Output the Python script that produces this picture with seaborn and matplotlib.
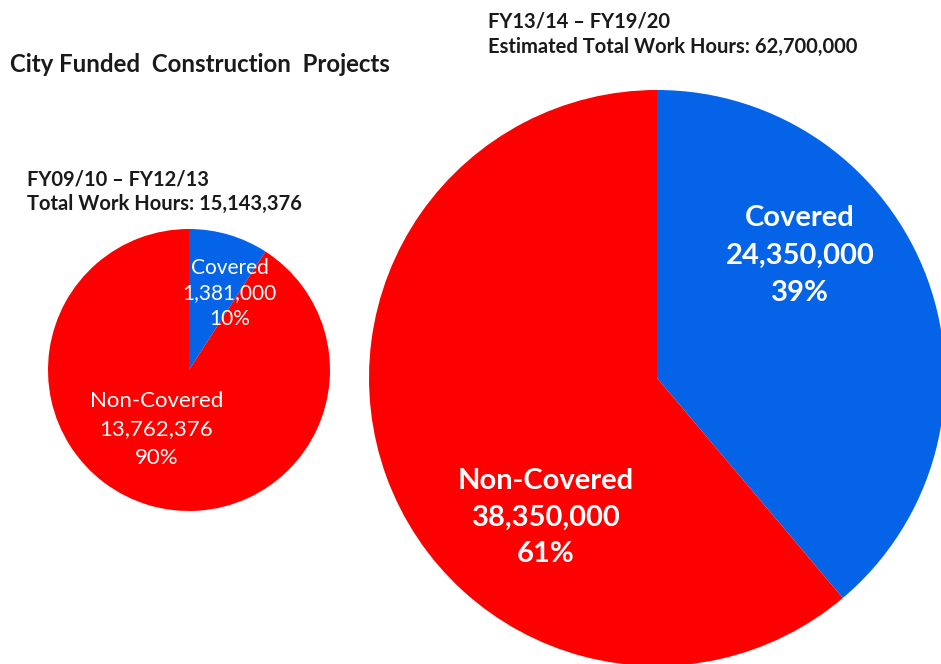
################################################################
# libraries:
import matplotlib
matplotlib.use('Agg')
import matplotlib.pyplot as plt
import seaborn as sns

################################################################
# data:
categories = ['Covered', 'Non-Covered']
hours_past = [1381000, 13762376]        # FY09/10 - FY12/13
hours_future = [24350000, 38350000]     # FY13/14 - FY19/20
pct_past = ['10%', '90%']
pct_future = ['39%', '61%']
colors = ['#0563E8', '#FF0000']

################################################################
# style:
sns.set_theme(style='white')
plt.rcParams['font.family'] = ['Lato', 'DejaVu Sans']

W, H = 941, 664
fig = plt.figure(figsize=(W / 100, H / 100), dpi=100)
fig.patch.set_facecolor('white')


def px_axes(cx, cy, r):
    # axes box in figure fraction from a pixel centre / radius
    return fig.add_axes([(cx - r) / W, (H - cy - r) / H, 2 * r / W, 2 * r / H])


def draw_pie(ax, values):
    ax.pie(values, colors=colors, startangle=90, counterclock=False,
           radius=1, wedgeprops=dict(linewidth=0))
    ax.set_xlim(-1, 1)
    ax.set_ylim(-1, 1)
    ax.set_aspect('equal')
    ax.axis('off')


def lbl(ax, x, y, name, val, pct, size, weight, spacing):
    ax.text(x, y, f'{name}\n{val:,}\n{pct}', ha='center', va='center',
            color='white', fontsize=size, fontweight=weight,
            linespacing=spacing)


# small pie (area scaled to total hours)
ax1 = px_axes(189, 370, 141)
draw_pie(ax1, hours_past)
lbl(ax1, 0.29, 0.545, categories[0], hours_past[0], pct_past[0], 15, 'normal', 1.34)
lbl(ax1, -0.23, -0.42, categories[1], hours_past[1], pct_past[1], 16, 'normal', 1.52)

# big pie
ax2 = px_axes(657, 378, 288)
draw_pie(ax2, hours_future)
lbl(ax2, 0.497, 0.425, categories[0], hours_future[0], pct_future[0], 21, 'bold', 1.53)
lbl(ax2, -0.385, -0.485, categories[1], hours_future[1], pct_future[1], 21, 'bold', 1.5)

# headings
def ftext(x, y, s, size):
    fig.text(x / W, 1 - y / H, s, ha='left', va='baseline',
             fontsize=size, fontweight='bold', color='#1a1a1a')

ftext(10, 72, 'City Funded  Construction  Projects', 17.3)
ftext(27, 185, 'FY09/10 \u2013 FY12/13', 14.5)
ftext(27, 210, 'Total Work Hours: {:,}'.format(sum(hours_past)), 14.5)
ftext(488, 28, 'FY13/14 \u2013 FY19/20', 14.5)
ftext(488, 53, 'Estimated Total Work Hours: {:,}'.format(sum(hours_future)), 14.5)

fig.savefig('out.png', dpi=100)
